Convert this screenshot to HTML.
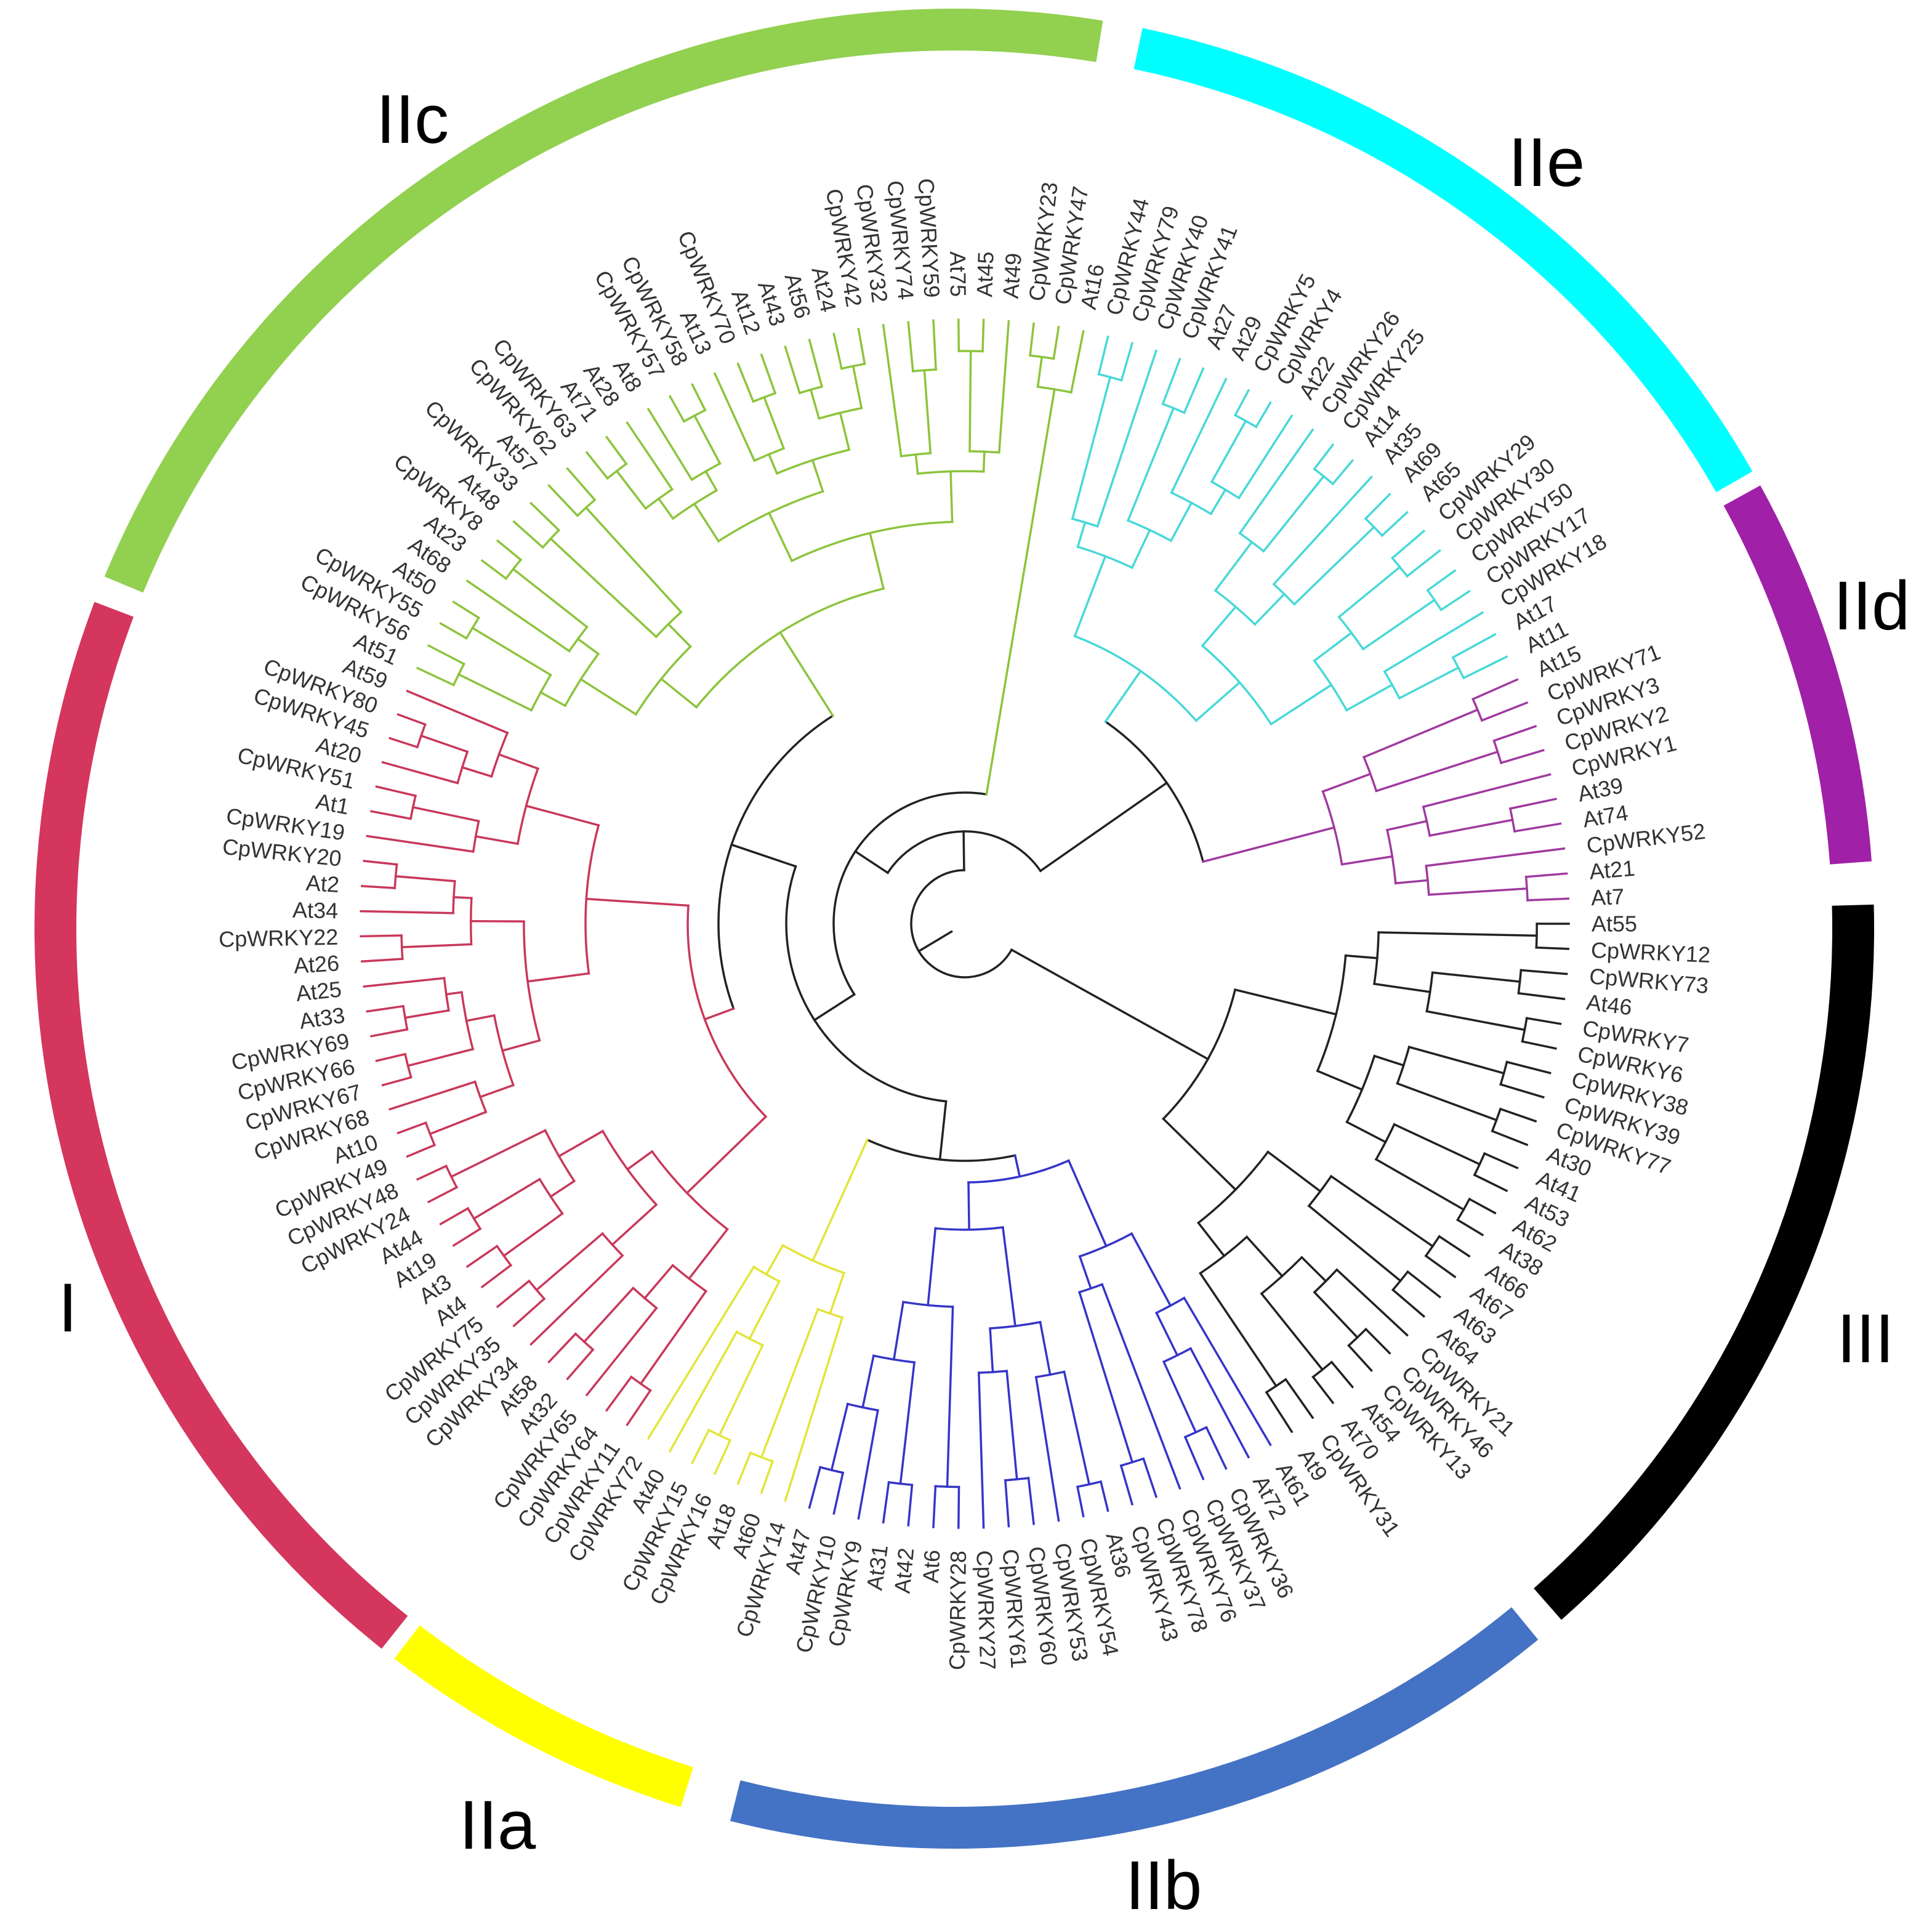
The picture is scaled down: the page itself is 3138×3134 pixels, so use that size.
<!DOCTYPE html>
<html><head><meta charset="utf-8">
<style>
html,body{margin:0;padding:0;background:#fff;}
svg{display:block;}
.lab text{font-family:"Liberation Sans",Arial,sans-serif;font-size:36px;fill:#333;dominant-baseline:central;
transform:rotate(calc(var(--i) * 2.384106deg)) translateX(1018px);}
.lab text.l{text-anchor:end;transform:rotate(calc(var(--i) * 2.384106deg + 180deg)) translateX(-1018px);}
.grp{font-family:"Liberation Sans",Arial,sans-serif;font-size:112px;fill:#000;text-anchor:middle;}
</style></head><body>
<svg id="s" width="3138" height="3134" viewBox="0 0 3138 3134" xmlns="http://www.w3.org/2000/svg">
<g id="ring"></g>
<g id="tree" fill="none" stroke-width="3.5" stroke-linecap="square"></g>
<g class="lab" transform="translate(1567 1500)">
<text style="--i:0">At55</text><text style="--i:1">CpWRKY12</text><text style="--i:2">CpWRKY73</text><text style="--i:3">At46</text><text style="--i:4">CpWRKY7</text><text style="--i:5">CpWRKY6</text><text style="--i:6">CpWRKY38</text><text style="--i:7">CpWRKY39</text><text style="--i:8">CpWRKY77</text><text style="--i:9">At30</text>
<text style="--i:10">At41</text><text style="--i:11">At53</text><text style="--i:12">At62</text><text style="--i:13">At38</text><text style="--i:14">At66</text><text style="--i:15">At67</text><text style="--i:16">At63</text><text style="--i:17">At64</text><text style="--i:18">CpWRKY21</text><text style="--i:19">CpWRKY46</text>
<text style="--i:20">CpWRKY13</text><text style="--i:21">At54</text><text style="--i:22">At70</text><text style="--i:23">CpWRKY31</text><text style="--i:24">At9</text><text style="--i:25">At61</text><text style="--i:26">At72</text><text style="--i:27">CpWRKY36</text><text style="--i:28">CpWRKY37</text><text style="--i:29">CpWRKY76</text>
<text style="--i:30">CpWRKY78</text><text style="--i:31">CpWRKY43</text><text style="--i:32">At36</text><text style="--i:33">CpWRKY54</text><text style="--i:34">CpWRKY53</text><text style="--i:35">CpWRKY60</text><text style="--i:36">CpWRKY61</text><text style="--i:37">CpWRKY27</text><text class="l" style="--i:38">CpWRKY28</text><text class="l" style="--i:39">At6</text>
<text class="l" style="--i:40">At42</text><text class="l" style="--i:41">At31</text><text class="l" style="--i:42">CpWRKY9</text><text class="l" style="--i:43">CpWRKY10</text><text class="l" style="--i:44">At47</text><text class="l" style="--i:45">CpWRKY14</text><text class="l" style="--i:46">At60</text><text class="l" style="--i:47">At18</text><text class="l" style="--i:48">CpWRKY16</text><text class="l" style="--i:49">CpWRKY15</text>
<text class="l" style="--i:50">At40</text><text class="l" style="--i:51">CpWRKY72</text><text class="l" style="--i:52">CpWRKY11</text><text class="l" style="--i:53">CpWRKY64</text><text class="l" style="--i:54">CpWRKY65</text><text class="l" style="--i:55">At32</text><text class="l" style="--i:56">At58</text><text class="l" style="--i:57">CpWRKY34</text><text class="l" style="--i:58">CpWRKY35</text><text class="l" style="--i:59">CpWRKY75</text>
<text class="l" style="--i:60">At4</text><text class="l" style="--i:61">At3</text><text class="l" style="--i:62">At19</text><text class="l" style="--i:63">At44</text><text class="l" style="--i:64">CpWRKY24</text><text class="l" style="--i:65">CpWRKY48</text><text class="l" style="--i:66">CpWRKY49</text><text class="l" style="--i:67">At10</text><text class="l" style="--i:68">CpWRKY68</text><text class="l" style="--i:69">CpWRKY67</text>
<text class="l" style="--i:70">CpWRKY66</text><text class="l" style="--i:71">CpWRKY69</text><text class="l" style="--i:72">At33</text><text class="l" style="--i:73">At25</text><text class="l" style="--i:74">At26</text><text class="l" style="--i:75">CpWRKY22</text><text class="l" style="--i:76">At34</text><text class="l" style="--i:77">At2</text><text class="l" style="--i:78">CpWRKY20</text><text class="l" style="--i:79">CpWRKY19</text>
<text class="l" style="--i:80">At1</text><text class="l" style="--i:81">CpWRKY51</text><text class="l" style="--i:82">At20</text><text class="l" style="--i:83">CpWRKY45</text><text class="l" style="--i:84">CpWRKY80</text><text class="l" style="--i:85">At59</text><text class="l" style="--i:86">At51</text><text class="l" style="--i:87">CpWRKY56</text><text class="l" style="--i:88">CpWRKY55</text><text class="l" style="--i:89">At50</text>
<text class="l" style="--i:90">At68</text><text class="l" style="--i:91">At23</text><text class="l" style="--i:92">CpWRKY8</text><text class="l" style="--i:93">At48</text><text class="l" style="--i:94">CpWRKY33</text><text class="l" style="--i:95">At57</text><text class="l" style="--i:96">CpWRKY62</text><text class="l" style="--i:97">CpWRKY63</text><text class="l" style="--i:98">At71</text><text class="l" style="--i:99">At28</text>
<text class="l" style="--i:100">At8</text><text class="l" style="--i:101">CpWRKY57</text><text class="l" style="--i:102">CpWRKY58</text><text class="l" style="--i:103">At13</text><text class="l" style="--i:104">CpWRKY70</text><text class="l" style="--i:105">At12</text><text class="l" style="--i:106">At43</text><text class="l" style="--i:107">At56</text><text class="l" style="--i:108">At24</text><text class="l" style="--i:109">CpWRKY42</text>
<text class="l" style="--i:110">CpWRKY32</text><text class="l" style="--i:111">CpWRKY74</text><text class="l" style="--i:112">CpWRKY59</text><text class="l" style="--i:113">At75</text><text style="--i:114">At45</text><text style="--i:115">At49</text><text style="--i:116">CpWRKY23</text><text style="--i:117">CpWRKY47</text><text style="--i:118">At16</text><text style="--i:119">CpWRKY44</text>
<text style="--i:120">CpWRKY79</text><text style="--i:121">CpWRKY40</text><text style="--i:122">CpWRKY41</text><text style="--i:123">At27</text><text style="--i:124">At29</text><text style="--i:125">CpWRKY5</text><text style="--i:126">CpWRKY4</text><text style="--i:127">At22</text><text style="--i:128">CpWRKY26</text><text style="--i:129">CpWRKY25</text>
<text style="--i:130">At14</text><text style="--i:131">At35</text><text style="--i:132">At69</text><text style="--i:133">At65</text><text style="--i:134">CpWRKY29</text><text style="--i:135">CpWRKY30</text><text style="--i:136">CpWRKY50</text><text style="--i:137">CpWRKY17</text><text style="--i:138">CpWRKY18</text><text style="--i:139">At17</text>
<text style="--i:140">At11</text><text style="--i:141">At15</text><text style="--i:142">CpWRKY71</text><text style="--i:143">CpWRKY3</text><text style="--i:144">CpWRKY2</text><text style="--i:145">CpWRKY1</text><text style="--i:146">At39</text><text style="--i:147">At74</text><text style="--i:148">CpWRKY52</text><text style="--i:149">At21</text><text style="--i:150">At7</text>
</g>
<text class="grp" x="670" y="232">IIc</text>
<text class="grp" x="2512" y="302">IIe</text>
<text class="grp" x="3040" y="1022">IId</text>
<text class="grp" x="3030" y="2212">III</text>
<text class="grp" x="110" y="2162">I</text>
<text class="grp" x="808" y="3002">IIa</text>
<text class="grp" x="1890" y="3100">IIb</text>
</svg>
<script>
(function(){
var NS="http://www.w3.org/2000/svg";
var ring=document.getElementById('ring'),tree=document.getElementById('tree');
function P(cx,cy,r,a){a=a*Math.PI/180;return [cx+r*Math.cos(a),cy+r*Math.sin(a)];}
function arcD(cx,cy,r,a0,a1){var p=P(cx,cy,r,a0),q=P(cx,cy,r,a1);var lg=(a1-a0)>180?1:0;
return "M"+p[0].toFixed(1)+" "+p[1].toFixed(1)+" A"+r+" "+r+" 0 "+lg+" 1 "+q[0].toFixed(1)+" "+q[1].toFixed(1);}
function path(parent,d,color,w){var e=document.createElementNS(NS,'path');e.setAttribute('d',d);e.setAttribute('stroke',color);e.setAttribute('fill','none');if(w)e.setAttribute('stroke-width',w);parent.appendChild(e);}
var segs=[[202.5,279.3,'#92d050'],[281.8,330.2,'#00ffff'],[331.2,355.8,'#a020a8'],[358.5,408.7,'#000000'],[410.6,464.1,'#4472c4'],[467.3,487.5,'#ffff00'],[488.5,560.8,'#d4365e']];
segs.forEach(function(s){path(ring,arcD(1550,1508,1460,s[0],s[1]),s[2],68);});
var N=151,step=360/N,TIP=981,cx=1567,cy=1500;
var seed=11;function rnd(){seed=(seed*9301+49297)%233280;return seed/233280;}
function gen(lo,hi,r,color){
  if(lo==hi)return{leaf:lo,color:color};
  var n=hi-lo+1;var k=Math.max(1,Math.min(n-1,Math.round(n*(0.3+0.4*rnd()))));
  function mk(a,b){if(a==b)return{leaf:a,color:color};
    var rr=r+(TIP-r)*(0.12+0.22*rnd());
    if(b-a<=1)rr=Math.max(rr,TIP-45-35*rnd());
    return gen(a,b,rr,color);}
  return{r:r,color:color,children:[mk(lo,lo+k-1),mk(lo+k,hi)]};
}
var K='#222';
function node(r,ch){return{r:r,color:K,children:ch};}
var root=node(87,[
  gen(0,24,452,K),
  node(150,[
    node(213,[
      node(290,[
        node(385,[gen(25,44,420,'#3535c8'),gen(45,51,600,'#e4e43a')]),
        node(400,[gen(52,85,450,'#c8385a'),gen(86,115,560,'#8cc43c')])
      ]),
      gen(116,118,880,'#8cc43c')
    ]),
    node(400,[gen(119,140,500,'#48d8d8'),gen(141,150,620,'#a03aa0')])
  ])
]);
function ang(n){if(n.leaf!==undefined)return n.a=n.leaf*step;n.children.forEach(ang);n.a=(n.children[0].a+n.children[n.children.length-1].a)/2;return n.a;}
ang(root);
function line(r0,r1,a,color){var p=P(cx,cy,r0,a),q=P(cx,cy,r1,a);path(tree,"M"+p[0].toFixed(1)+" "+p[1].toFixed(1)+" L"+q[0].toFixed(1)+" "+q[1].toFixed(1),color);}
function draw(n){
  var c=n.children,a0=c[0].a,a1=c[c.length-1].a;
  path(tree,arcD(cx,cy,n.r,a0,a1),n.color);
  c.forEach(function(ch){
    if(ch.leaf!==undefined){line(n.r,TIP,ch.a,ch.color);}
    else{line(n.r,ch.r,ch.a,ch.color);draw(ch);}
  });
}
draw(root);
line(25,87,root.a,K);
})();
</script>
</body></html>
